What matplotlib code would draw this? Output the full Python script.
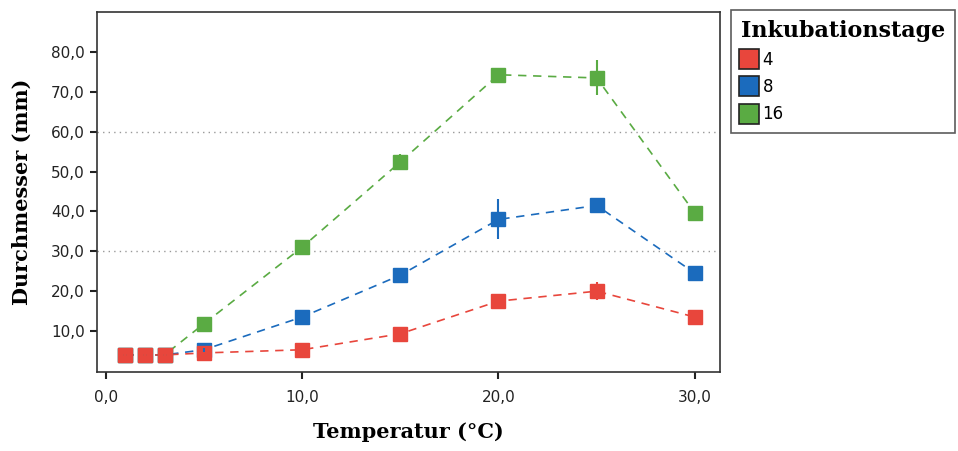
import matplotlib
matplotlib.use("Agg")
import matplotlib.pyplot as plt
from matplotlib.ticker import FuncFormatter
from matplotlib.lines import Line2D

temps = [1, 2, 3, 5, 10, 15, 20, 25, 30]
d4 = [4.0, 4.0, 4.0, 4.5, 5.3, 9.3, 17.5, 20.0, 13.5]
d4_err = [0.3, 0.3, 0.3, 0.3, 0.5, 0.8, 1.0, 2.2, 0.8]
d8 = [4.0, 4.0, 4.0, 5.3, 13.5, 24.0, 38.0, 41.5, 24.5]
d8_err = [0.3, 0.3, 0.3, 0.5, 0.8, 1.0, 5.0, 1.5, 0.8]
d16 = [4.0, 4.0, 4.0, 11.8, 31.0, 52.4, 74.3, 73.5, 39.6]
d16_err = [0.3, 0.3, 0.3, 0.8, 0.8, 2.0, 1.5, 4.4, 1.5]
labels = ["4", "8", "16"]
colors = ["#e8463c", "#1b6bbd", "#5aab43"]

fig = plt.figure(figsize=(9.58, 4.51), dpi=100)
ax = fig.add_axes([0.101, 0.175, 0.651, 0.798])

series = [(d4, d4_err), (d8, d8_err), (d16, d16_err)]
order = [2, 1, 0]
for i in order:
    y, e = series[i]
    ax.plot(temps, y, ls=(0, (5, 4)), color=colors[i], lw=1.2, zorder=2)
    ax.plot(temps, y, ls="none", marker="s", ms=10.5, mfc=colors[i], mec=colors[i], zorder=4)
    ax.errorbar(temps, y, yerr=e, fmt="none", ecolor=colors[i], elinewidth=1.5, capsize=0, zorder=5)

ax.set_xlim(-0.45, 31.3)
ax.set_ylim(-0.3, 90)
ax.set_xticks([0, 10, 20, 30])
ax.set_yticks([10, 20, 30, 40, 50, 60, 70, 80])
fmt = FuncFormatter(lambda v, p: f"{v:.1f}".replace(".", ","))
ax.xaxis.set_major_formatter(fmt)
ax.yaxis.set_major_formatter(fmt)
for v in [30, 60]:
    ax.axhline(v, color="#999999", ls=(0, (1, 3)), lw=1.0, zorder=1)
ax.tick_params(direction="out", length=5, width=1.5, labelsize=11, colors="#222222")
ax.tick_params(axis="x", pad=8)
for s in ax.spines.values():
    s.set_linewidth(1.2)
    s.set_color("#333333")

ax.set_xlabel("Temperatur (°C)", fontsize=15, fontweight="bold", family="DejaVu Serif", labelpad=12)
ax.set_ylabel("Durchmesser (mm)", fontsize=15, fontweight="bold", family="DejaVu Serif", labelpad=14)

handles = [Line2D([], [], ls="none", marker="s", ms=15, mfc=c, mec="#222222", mew=1.2) for c in colors]
leg = fig.legend(handles, labels, loc="upper left", bbox_to_anchor=(0.763, 0.5, 0.234, 0.478),
                 mode="expand",
                 title="Inkubationstage", fontsize=12, frameon=True, fancybox=False,
                 handlelength=1.0, handletextpad=0.3, labelspacing=0.55, borderpad=0.6,
                 borderaxespad=0.0, alignment="left")
leg.get_title().set_fontweight("bold")
leg.get_title().set_fontfamily("DejaVu Serif")
leg.get_title().set_fontsize(16)
leg.get_frame().set_edgecolor("#333333")
leg.get_frame().set_linewidth(1.2)

fig.savefig("out.png", dpi=100)
